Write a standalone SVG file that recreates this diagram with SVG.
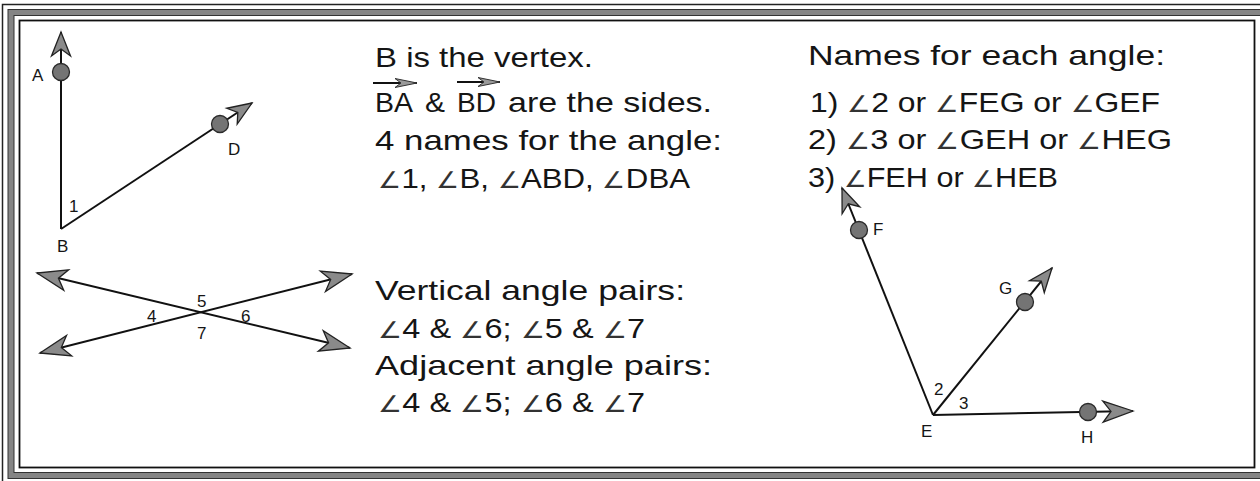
<svg xmlns="http://www.w3.org/2000/svg" width="1260" height="481" viewBox="0 0 1260 481">
<style>
.t{font-family:"Liberation Sans","DejaVu Sans",sans-serif;font-size:28px;fill:#151515}
.a{font-family:"DejaVu Sans",sans-serif;font-size:23px;font-weight:200;fill:#333}
.l{font-family:"Liberation Sans","DejaVu Sans",sans-serif;font-size:17px;fill:#151515}
.ray{fill:none;stroke:#111;stroke-width:2}
.pt{fill:#747474;stroke:#2a2a2a;stroke-width:1.3}
</style>
<defs>
<marker id="m1" markerUnits="userSpaceOnUse" markerWidth="40" markerHeight="30" viewBox="-30 -15 40 30" refX="0" refY="0" orient="auto-start-reverse" overflow="visible">
<path d="M0,0 L-24,-9.5 L-17,0 L-24,9.5 Z" fill="#8a8a8a" stroke="#222" stroke-width="1.3"/>
</marker>
<marker id="m2" markerUnits="userSpaceOnUse" markerWidth="40" markerHeight="30" viewBox="-35 -15 40 30" refX="0" refY="0" orient="auto-start-reverse" overflow="visible">
<path d="M0,0 L-30,-10.5 L-22,0 L-30,10.5 Z" fill="#8a8a8a" stroke="#222" stroke-width="1.3"/>
</marker>
<marker id="m3" markerUnits="userSpaceOnUse" markerWidth="30" markerHeight="12" viewBox="-25 -6 30 12" refX="0" refY="0" orient="auto" overflow="visible">
<path d="M0,0 L-22,-4.5 L-16,0 L-22,4.5 Z" fill="#999" stroke="#333" stroke-width="1"/>
</marker>
</defs>
<rect width="1260" height="481" fill="#fff"/>
<g id="frame" fill="none">
<rect x="2.5" y="4.5" width="1275" height="495" stroke="#222" stroke-width="1.5"/>
<rect x="11" y="12.5" width="1260" height="463" stroke="#858585" stroke-width="6"/>
<rect x="8" y="9.5" width="1266" height="469" stroke="#333" stroke-width="1"/>
<rect x="14" y="15.5" width="1254" height="457" stroke="#333" stroke-width="1"/>
<rect x="19.5" y="20.5" width="1235" height="447" stroke="#111" stroke-width="1.8"/>
</g>
<g id="connectors">
<path class="ray" d="M61,229 L61,32" marker-end="url(#m1)"/>
<path class="ray" d="M61,229 L252,103" marker-end="url(#m1)"/>
<path class="ray" d="M37,273 L350,348" marker-start="url(#m2)" marker-end="url(#m2)"/>
<path class="ray" d="M40,353 L352,274" marker-start="url(#m2)" marker-end="url(#m2)"/>
<path class="ray" d="M933,415 L842,188" marker-end="url(#m1)"/>
<path class="ray" d="M933,415 L1052,268" marker-end="url(#m1)"/>
<path class="ray" d="M933,415 L1133,411" marker-end="url(#m2)"/>
<path class="ray" d="M373,83 L417,83" stroke-width="1.5" marker-end="url(#m3)"/>
<path class="ray" d="M457,82 L500,82" stroke-width="1.5" marker-end="url(#m3)"/>
</g>
<g id="pointA"><circle class="pt" cx="61" cy="72" r="8.5"/><text class="l" x="32" y="81">A</text></g>
<g id="pointB"><text class="l" x="57" y="252">B</text><text class="l" x="69" y="212">1</text></g>
<g id="pointD"><circle class="pt" cx="220" cy="124" r="8.5"/><text class="l" x="228" y="155">D</text></g>
<g id="cross"><text class="l" x="197" y="307">5</text><text class="l" x="147" y="322">4</text><text class="l" x="241" y="322">6</text><text class="l" x="197" y="339">7</text></g>
<g id="pointE"><text class="l" x="921" y="437">E</text><text class="l" x="934" y="395">2</text><text class="l" x="959" y="409">3</text></g>
<g id="pointF"><circle class="pt" cx="859" cy="230" r="8.5"/><text class="l" x="873" y="235">F</text></g>
<g id="pointG"><circle class="pt" cx="1025" cy="302" r="8.5"/><text class="l" x="999" y="294">G</text></g>
<g id="pointH"><circle class="pt" cx="1088" cy="412" r="8.5"/><text class="l" x="1081" y="443">H</text></g>
<g id="text1">
<text class="t" x="375" y="67" textLength="218" lengthAdjust="spacingAndGlyphs">B is the vertex.</text>
<text class="t" x="375" y="112" textLength="38" lengthAdjust="spacingAndGlyphs">BA</text>
<text class="t" x="425" y="112" textLength="20" lengthAdjust="spacingAndGlyphs">&amp;</text>
<text class="t" x="457" y="112" textLength="39" lengthAdjust="spacingAndGlyphs">BD</text>
<text class="t" x="508" y="112" textLength="204" lengthAdjust="spacingAndGlyphs">are the sides.</text>
<text class="t" x="375" y="150" textLength="347" lengthAdjust="spacingAndGlyphs">4 names for the angle:</text>
<text class="t" x="378" y="188" textLength="312" lengthAdjust="spacingAndGlyphs"><tspan class="a">∠</tspan>1, <tspan class="a">∠</tspan>B, <tspan class="a">∠</tspan>ABD, <tspan class="a">∠</tspan>DBA</text>
</g>
<g id="text2">
<text class="t" x="375" y="300" textLength="310" lengthAdjust="spacingAndGlyphs">Vertical angle pairs:</text>
<text class="t" x="378" y="338" textLength="267" lengthAdjust="spacingAndGlyphs"><tspan class="a">∠</tspan>4 &amp; <tspan class="a">∠</tspan>6; <tspan class="a">∠</tspan>5 &amp; <tspan class="a">∠</tspan>7</text>
<text class="t" x="375" y="375" textLength="337" lengthAdjust="spacingAndGlyphs">Adjacent angle pairs:</text>
<text class="t" x="378" y="412" textLength="267" lengthAdjust="spacingAndGlyphs"><tspan class="a">∠</tspan>4 &amp; <tspan class="a">∠</tspan>5; <tspan class="a">∠</tspan>6 &amp; <tspan class="a">∠</tspan>7</text>
</g>
<g id="text3">
<text class="t" x="808" y="65" textLength="357" lengthAdjust="spacingAndGlyphs">Names for each angle:</text>
<text class="t" x="810" y="112" textLength="350" lengthAdjust="spacingAndGlyphs">1) <tspan class="a">∠</tspan>2 or <tspan class="a">∠</tspan>FEG or <tspan class="a">∠</tspan>GEF</text>
<text class="t" x="808" y="149" textLength="364" lengthAdjust="spacingAndGlyphs">2) <tspan class="a">∠</tspan>3 or <tspan class="a">∠</tspan>GEH or <tspan class="a">∠</tspan>HEG</text>
<text class="t" x="808" y="187" textLength="250" lengthAdjust="spacingAndGlyphs">3) <tspan class="a">∠</tspan>FEH or <tspan class="a">∠</tspan>HEB</text>
</g>
</svg>
